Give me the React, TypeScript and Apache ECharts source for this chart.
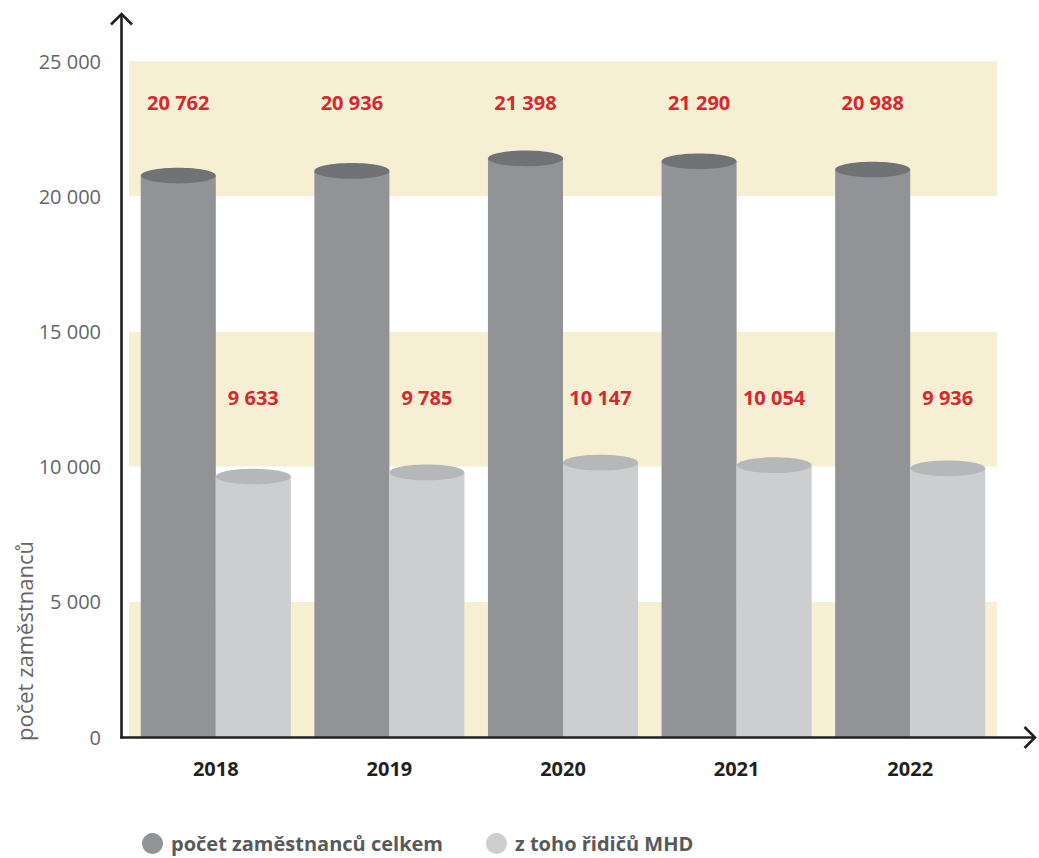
import React, { useEffect, useRef } from "react";
import * as echarts from "echarts";

const years = ["2018", "2019", "2020", "2021", "2022"];
const totalEmployees = [20762, 20936, 21398, 21290, 20988];
const mhdDrivers = [9633, 9785, 10147, 10054, 9936];
const seriesNames = ["počet zaměstnanců celkem", "z toho řidičů MHD"];
const yAxisTitle = "počet zaměstnanců";

const FONT = "'Open Sans', 'Noto Sans', sans-serif";
const fmt = (v: number) => String(v).replace(/\B(?=(\d{3})+(?!\d))/g, " ");

function makeRender(side: number, body: string, top: string, labelDy: number) {
  return (params: any, api: any) => {
    const idx = api.value(0);
    const val = api.value(1);
    const p = api.coord([idx, val]);
    const base = api.coord([idx, 0]);
    const band = api.size([1, 0])[0];
    const w = (band * 75) / 173.5;
    const x0 = side < 0 ? p[0] - w : p[0];
    const cx = x0 + w / 2;
    const labelY = api.coord([idx, 25000])[1] + labelDy;
    return {
      type: "group",
      children: [
        {
          type: "rect",
          shape: { x: x0, y: p[1], width: w, height: base[1] - p[1] },
          style: { fill: body },
        },
        {
          type: "ellipse",
          shape: { cx, cy: p[1], rx: w / 2, ry: 7.8 },
          style: { fill: top },
        },
        {
          type: "text",
          style: {
            text: fmt(val),
            x: cx,
            y: labelY,
            align: "center",
            verticalAlign: "middle",
            fill: "#d7282f",
            fontSize: 20,
            fontWeight: "bold",
            fontFamily: FONT,
          },
        },
      ],
    };
  };
}

export default function App() {
  const ref = useRef<HTMLDivElement>(null);
  useEffect(() => {
    document.body.style.margin = "0";
    if (!ref.current) return;
    const chart = echarts.init(ref.current, null, { renderer: "svg" });
    const axisColor = "#231f20";
    chart.setOption({
      animation: false,
      grid: { left: 129, right: 42, top: 61, bottom: 121 },
      legend: {
        left: 137,
        top: 828,
        icon: "circle",
        itemWidth: 21,
        itemHeight: 21,
        itemGap: 43,
        data: seriesNames,
        textStyle: {
          fontFamily: FONT,
          fontSize: 20,
          lineHeight: 20,
          fontWeight: "bold",
          color: "#58595b",
          padding: [0, 0, 0, 3],
        },
      },
      xAxis: {
        type: "category",
        data: years,
        axisLine: { show: false },
        axisTick: { show: false },
        axisLabel: {
          margin: 21,
          fontFamily: FONT,
          fontSize: 20,
          fontWeight: "bold",
          color: "#231f20",
        },
      },
      yAxis: {
        type: "value",
        min: 0,
        max: 25000,
        interval: 5000,
        axisLine: { show: false },
        axisTick: { show: false },
        splitLine: { show: false },
        splitArea: { show: true, areaStyle: { color: ["#f6efd4", "#ffffff"] } },
        axisLabel: {
          margin: 28,
          fontFamily: FONT,
          fontSize: 20,
          color: "#646569",
          formatter: (v: number) => fmt(v),
        },
      },
      graphic: [
        {
          type: "text",
          x: 24,
          y: 741,
          rotation: Math.PI / 2,
          style: {
            text: yAxisTitle,
            fontFamily: FONT,
            fontSize: 22,
            fill: "#646569",
            align: "left",
            verticalAlign: "middle",
          },
        },
        {
          type: "line",
          shape: { x1: 121.5, y1: 738.5, x2: 121.5, y2: 14 },
          style: { stroke: axisColor, lineWidth: 2.6 },
          z: 100,
        },
        {
          type: "polyline",
          shape: { points: [[111, 24.5], [121.5, 14], [132, 24.5]] },
          style: { stroke: axisColor, lineWidth: 2.6, fill: null },
          z: 100,
        },
        {
          type: "line",
          shape: { x1: 120.2, y1: 737.5, x2: 1035, y2: 737.5 },
          style: { stroke: axisColor, lineWidth: 2.6 },
          z: 100,
        },
        {
          type: "polyline",
          shape: { points: [[1024.5, 727], [1035, 737.5], [1024.5, 748]] },
          style: { stroke: axisColor, lineWidth: 2.6, fill: null },
          z: 100,
        },
      ],
      series: [
        {
          name: seriesNames[0],
          type: "custom",
          itemStyle: { color: "#929396" },
          encode: { x: 0, y: 1 },
          data: totalEmployees.map((v, i) => [i, v]),
          renderItem: makeRender(-1, "#929396", "#717275", 41),
        },
        {
          name: seriesNames[1],
          type: "custom",
          itemStyle: { color: "#cdcecf" },
          encode: { x: 0, y: 1 },
          data: mhdDrivers.map((v, i) => [i, v]),
          renderItem: makeRender(1, "#cdcecf", "#b6b7b9", 336),
        },
      ],
    });
    return () => chart.dispose();
  }, []);
  return <div ref={ref} style={{ width: 1039, height: 858 }} />;
}
